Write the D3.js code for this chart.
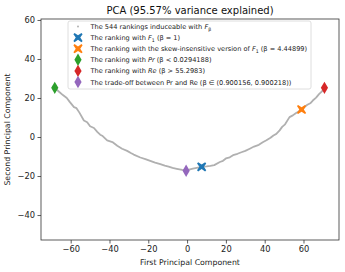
<!DOCTYPE html>
<html lang="en">
<meta charset="UTF-8">
<title>PCA of rankings</title>
<script src="https://d3js.org/d3.v7.min.js"></script>
<style>
body { margin: 0; background: #fff; font-family: "DejaVu Sans", sans-serif; }
.tick text { font-family: "DejaVu Sans", sans-serif; }
</style>
<body>
<div id="chart"></div>
<script>
// curve of rankings (first / second component)
var curveX = [-68.2, -66, -64, -62, -60.5, -58.3, -57, -55.5, -53.2, -51.5, -50, -48, -46.3, -44.8, -43.5, -41.2, -38.5, -36, -33.5, -30.9, -29, -27.5, -24.1, -21.5, -19, -16.5, -13.8, -11.5, -9.5, -7.5, -5.3, -2.5, -0.5,
              1.5, 3, 5, 7.5, 10, 12, 14, 16.9, 18.5, 20, 22, 23.7, 26, 28, 30, 32.3, 34.5, 37, 39, 40.9, 43, 44.5, 46, 47.7, 49, 50.5, 52.8, 54.5, 56, 57.5, 59, 60.5, 62, 63.5, 64.8, 66.5, 68, 69.5, 70.8];
var curveY = [25.2, 23.2, 21.5, 20, 18, 15.3, 14.8, 12.5, 8.5, 7.6, 5.5, 4.6, 2.6, 1.2, 0.5, -1.7, -2.6, -4.5, -6, -7.1, -8.2, -9, -10.5, -11.3, -12.2, -13.1, -13.9, -14.7, -15.2, -15.8, -16.3, -16.9, -17.2,
              -16.6, -16.2, -15.8, -15.3, -15.1, -14.8, -14.4, -12.8, -12.2, -11, -10.4, -9.3, -8.6, -7.8, -7.1, -6, -4.9, -4, -2.7, -1.7, -0.4, 0.8, 1.6, 3.4, 5.2, 6.5, 10.2, 11.1, 12.2, 13.1, 14.1, 15.4, 16.5, 17.3, 18.7, 20.2, 22, 23.4, 25.2];

// highlighted rankings
var specials = [
  {name: "f1", x: 7.5, y: -15.3, color: "#1f77b4", shape: "x"},
  {name: "skew", x: 59, y: 14.1, color: "#ff7f0e", shape: "x"},
  {name: "pr", x: -68.2, y: 25.2, color: "#2ca02c", shape: "d"},
  {name: "re", x: 70.8, y: 25.2, color: "#d62728", shape: "d"},
  {name: "tradeoff", x: -0.5, y: -17.3, color: "#9467bd", shape: "d"}
];

var legendItems = [
  {shape: "dot", color: "#aaaaaa", parts: [["The 544 rankings induceable with ", ""], ["F", "i"], ["β", "sub"]]},
  {shape: "x", color: "#1f77b4", parts: [["The ranking with ", ""], ["F", "i"], ["1", "sub"], [" (β = 1)", ""]]},
  {shape: "x", color: "#ff7f0e", parts: [["The ranking with the skew-insensitive version of ", ""], ["F", "i"], ["1", "sub"], [" (β = 4.44899)", ""]]},
  {shape: "d", color: "#2ca02c", parts: [["The ranking with ", ""], ["Pr", "i"], [" (β < 0.0294188)", ""]]},
  {shape: "d", color: "#d62728", parts: [["The ranking with ", ""], ["Re", "i"], [" (β > 55.2983)", ""]]},
  {shape: "d", color: "#9467bd", parts: [["The trade-off between Pr and Re (β ∈ (0.900156, 0.900218))", ""]]}
];

var xTicks = [-60, -40, -20, 0, 20, 40, 60];
var yTicks = [-40, -20, 0, 20, 40, 60];

var W = 345, H = 272;
var margin = {top: 19, right: 6, bottom: 32, left: 41};
var width = W - margin.left - margin.right,
    height = H - margin.top - margin.bottom;

var svg = d3.select("#chart").append("svg")
    .attr("width", W).attr("height", H);
var g = svg.append("g")
    .attr("transform", "translate(" + margin.left + "," + margin.top + ")");

var x = d3.scaleLinear().domain([-75.3, 78.3]).range([0, width]);
var y = d3.scaleLinear().domain([-52.8, 60.5]).range([height, 0]);

// diamond and X marker paths
function diamond(w, h) {
  return "M0," + (-h) + "L" + w + ",0L0," + h + "L" + (-w) + ",0Z";
}
function xMark(r, t) {
  // filled X shape, r = half size, t = half arm width
  var a = t * Math.SQRT1_2 * 2;
  return "M" + (-r + a/2) + "," + (-r) + "L0," + (-a) + "L" + (r - a/2) + "," + (-r) +
         "L" + r + "," + (-r + a/2) + "L" + a + ",0L" + r + "," + (r - a/2) +
         "L" + (r - a/2) + "," + r + "L0," + a + "L" + (-r + a/2) + "," + r +
         "L" + (-r) + "," + (r - a/2) + "L" + (-a) + ",0L" + (-r) + "," + (-r + a/2) + "Z";
}
function markerPath(s) {
  return s === "d" ? diamond(3.6, 6.2) : xMark(4.6, 1.6);
}

// the curve
var pts = curveX.map(function(d, i) { return [d, curveY[i]]; });
g.append("path")
  .datum(pts)
  .attr("fill", "none")
  .attr("stroke", "#b0b0b0")
  .attr("stroke-width", 1.8)
  .attr("stroke-linejoin", "round")
  .attr("d", d3.line()
    .x(function(d) { return x(d[0]); })
    .y(function(d) { return y(d[1]); }));

// highlighted markers
g.selectAll(".special")
  .data(specials)
  .enter().append("path")
    .attr("class", "special")
    .attr("transform", function(d) { return "translate(" + x(d.x) + "," + y(d.y) + ")"; })
    .attr("d", function(d) { return markerPath(d.shape); })
    .attr("fill", function(d) { return d.color; });

// axes
var xAxis = g.append("g")
  .attr("transform", "translate(0," + height + ")")
  .call(d3.axisBottom(x).tickValues(xTicks).tickSize(3.5).tickPadding(2.5)
    .tickFormat(function(d) { return String(d).replace("-", "\u2212"); }));
var yAxis = g.append("g")
  .call(d3.axisLeft(y).tickValues(yTicks).tickSize(3.5).tickPadding(2.5)
    .tickFormat(function(d) { return String(d).replace("-", "\u2212"); }));
[xAxis, yAxis].forEach(function(a) {
  a.selectAll("text").attr("font-size", 8.3).attr("fill", "#222");
  a.selectAll("line").attr("stroke", "#333").attr("stroke-width", 0.8);
  a.select(".domain").remove();
});

// frame
g.append("rect")
  .attr("width", width).attr("height", height)
  .attr("fill", "none").attr("stroke", "#333").attr("stroke-width", 0.8);

// title and labels
svg.append("text")
  .attr("x", margin.left + width / 2).attr("y", 14)
  .attr("text-anchor", "middle")
  .attr("font-size", 10)
  .attr("fill", "#111")
  .text("PCA (95.57% variance explained)");

svg.append("text")
  .attr("x", margin.left + width / 2).attr("y", H - 7)
  .attr("text-anchor", "middle")
  .attr("font-size", 7.8)
  .attr("fill", "#222")
  .text("First Principal Component");

svg.append("text")
  .attr("transform", "translate(10," + (margin.top + height / 2) + ") rotate(-90)")
  .attr("text-anchor", "middle")
  .attr("font-size", 7.8)
  .attr("fill", "#222")
  .text("Second Principal Component");

// legend
var lg = svg.append("g").attr("transform", "translate(68,21)");
lg.append("rect")
  .attr("width", 243).attr("height", 68).attr("rx", 2)
  .attr("fill", "#fff").attr("fill-opacity", 0.85)
  .attr("stroke", "#d6d6d6").attr("stroke-width", 0.8);

var rows = lg.selectAll(".row")
  .data(legendItems)
  .enter().append("g")
    .attr("class", "row")
    .attr("transform", function(d, i) { return "translate(0," + (5.5 + i * 11.1) + ")"; });

rows.each(function(d) {
  var r = d3.select(this);
  if (d.shape === "dot") {
    r.append("circle").attr("cx", 10).attr("cy", 0).attr("r", 0.9).attr("fill", d.color);
  } else {
    r.append("path")
      .attr("transform", "translate(10,0)")
      .attr("d", markerPath(d.shape))
      .attr("fill", d.color);
  }
  var t = r.append("text")
    .attr("x", 22.5).attr("y", 2.5)
    .attr("font-size", 6.6)
    .attr("fill", "#222");
  d.parts.forEach(function(p, j) {
    var s = t.append("tspan").text(p[0]);
    if (p[1] === "i") s.attr("font-style", "italic");
    if (p[1] === "sub") s.attr("font-size", 4.7).attr("dy", 1.5);
    else if (j > 0 && d.parts[j - 1][1] === "sub") s.attr("dy", -1.5);
  });
});
</script>
</body>
</html>
